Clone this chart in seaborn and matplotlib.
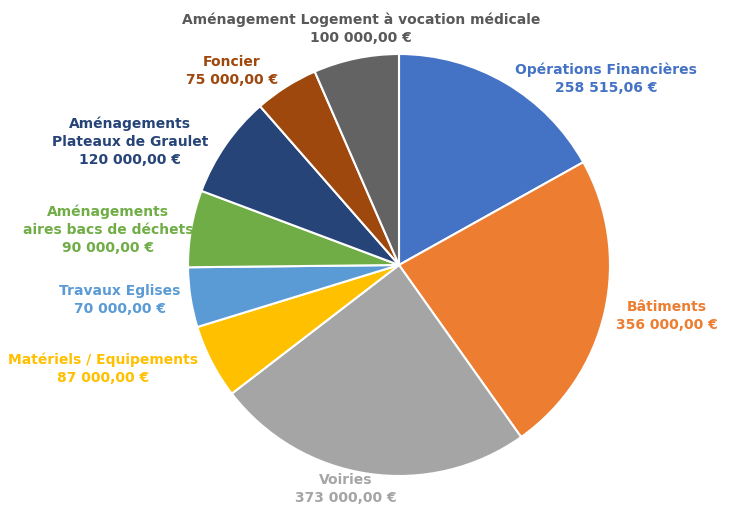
import matplotlib
matplotlib.use("Agg")
import matplotlib.pyplot as plt
import seaborn as sns

categories = ["Opérations Financières", "Bâtiments", "Voiries", "Matériels / Equipements",
              "Travaux Eglises", "Aménagements\naires bacs de déchets",
              "Aménagements\nPlateaux de Graulet", "Foncier",
              "Aménagement Logement à vocation médicale"]
values = [258515.06, 356000, 373000, 87000, 70000, 90000, 120000, 75000, 100000]
value_labels = ["258 515,06 €", "356 000,00 €", "373 000,00 €", "87 000,00 €", "70 000,00 €",
                "90 000,00 €", "120 000,00 €", "75 000,00 €", "100 000,00 €"]
colors = ["#4472C4", "#ED7D31", "#A5A5A5", "#FFC000", "#5B9BD5", "#70AD47",
          "#264478", "#9E480E", "#636363"]
text_colors = ["#4472C4", "#ED7D31", "#A5A5A5", "#FFC000", "#5B9BD5", "#70AD47",
               "#264478", "#9E480E", "#595959"]

sns.set_theme(style="white")
plt.rcParams['font.family'] = ['DejaVu Sans']

W, H = 729, 510
fig = plt.figure(figsize=(W / 100, H / 100), dpi=100)
ax = fig.add_axes([0, 0, 1, 1])

cx, cy, R = 399, 266, 211
ax.pie(values, colors=colors, startangle=90, counterclock=False,
       wedgeprops=dict(edgecolor="white", linewidth=1.5), radius=1)
ax.set_xlim(-cx / R, (W - cx) / R)
ax.set_ylim(-(H - cy) / R, cy / R)
ax.set_aspect("equal")
ax.axis("off")

label_px = [(606, 79), (667, 316), (346, 489), (103, 369), (120, 300),
            (108, 230), (130, 142), (232, 71), (361, 29)]

for cat, vl, col, (px, py) in zip(categories, value_labels, text_colors, label_px):
    ax.text((px - cx) / R, (cy - py) / R, cat + "\n" + vl, ha="center", va="center",
            color=col, fontsize=10, fontweight="bold", linespacing=1.35)

fig.savefig("out.png", dpi=100)
